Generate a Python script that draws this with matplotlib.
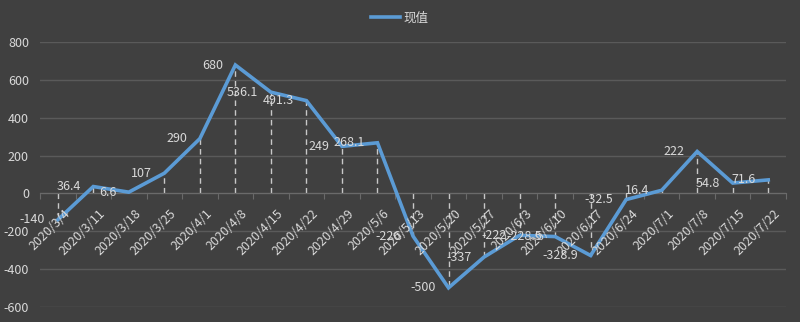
import matplotlib.pyplot as plt

plt.rcParams['font.family'] = ['Noto Sans CJK SC', 'DejaVu Sans']

# Weekly values
dates = ['2020/3/4', '2020/3/11', '2020/3/18', '2020/3/25', '2020/4/1', '2020/4/8',
         '2020/4/15', '2020/4/22', '2020/4/29', '2020/5/6', '2020/5/13', '2020/5/20',
         '2020/5/27', '2020/6/3', '2020/6/10', '2020/6/17', '2020/6/24', '2020/7/1',
         '2020/7/8', '2020/7/15', '2020/7/22']
values = [-140, 36.4, 6.6, 107, 290, 680, 536.1, 491.3, 249, 268.1, -226, -500,
          -337, -222, -228.5, -328.9, -32.5, 16.4, 222, 54.8, 71.6]
series_name = '现值'
yticks = [-600, -400, -200, 0, 200, 400, 600, 800]

bg = '#404040'
grid_c = '#5a5a5a'
text_c = '#d9d9d9'
line_c = '#5b9bd5'

fig = plt.figure(figsize=(8, 3.22), dpi=100, facecolor=bg)
ax = fig.add_axes([0.05, 0.0475, 0.9325, 0.821])
ax.set_facecolor(bg)

x = list(range(len(dates)))

# drop lines from each point to the zero axis
for xi, v in zip(x, values):
    ax.plot([xi, xi], [0, v], color='#c8c8c8', lw=1, ls=(0, (4, 3)), zorder=2)

ax.plot(x, values, color=line_c, lw=2.6, solid_joinstyle='miter', label=series_name, zorder=3)

# value labels to the left of each point
for xi, v in zip(x, values):
    ax.annotate(f'{v:g}', xy=(xi, v), xytext=(-9, 0), textcoords='offset points',
                ha='right', va='center', color=text_c, fontsize=9, zorder=4)

# date labels hanging under the zero line
for xi, d in zip(x, dates):
    ax.annotate(d, xy=(xi, 0), xytext=(4, -10), textcoords='offset points',
                ha='right', va='top', rotation=45, rotation_mode='anchor',
                color=text_c, fontsize=9, zorder=4)

ax.set_xlim(-0.5, len(dates) - 0.5)
ax.set_ylim(-600, 800)
ax.set_yticks(yticks)
ax.set_yticklabels([str(t) for t in yticks], color=text_c, fontsize=9)
ax.tick_params(axis='y', length=0, pad=8)
ax.grid(axis='y', color=grid_c, lw=1)
ax.set_axisbelow(True)

for s in ['top', 'right', 'left']:
    ax.spines[s].set_visible(False)
ax.spines['bottom'].set_position(('data', 0))
ax.spines['bottom'].set_color('#6a6a6a')
ax.set_xticks([i + 0.5 for i in range(-1, len(dates))])
ax.set_xticklabels([])
ax.tick_params(axis='x', length=4, color='#6a6a6a', direction='out')

leg = fig.legend(loc='upper center', bbox_to_anchor=(0.5, 1.0), frameon=False,
                 fontsize=9, handlelength=2.3, handletextpad=0.3)
for t in leg.get_texts():
    t.set_color(text_c)

fig.savefig('out.png', facecolor=bg)
